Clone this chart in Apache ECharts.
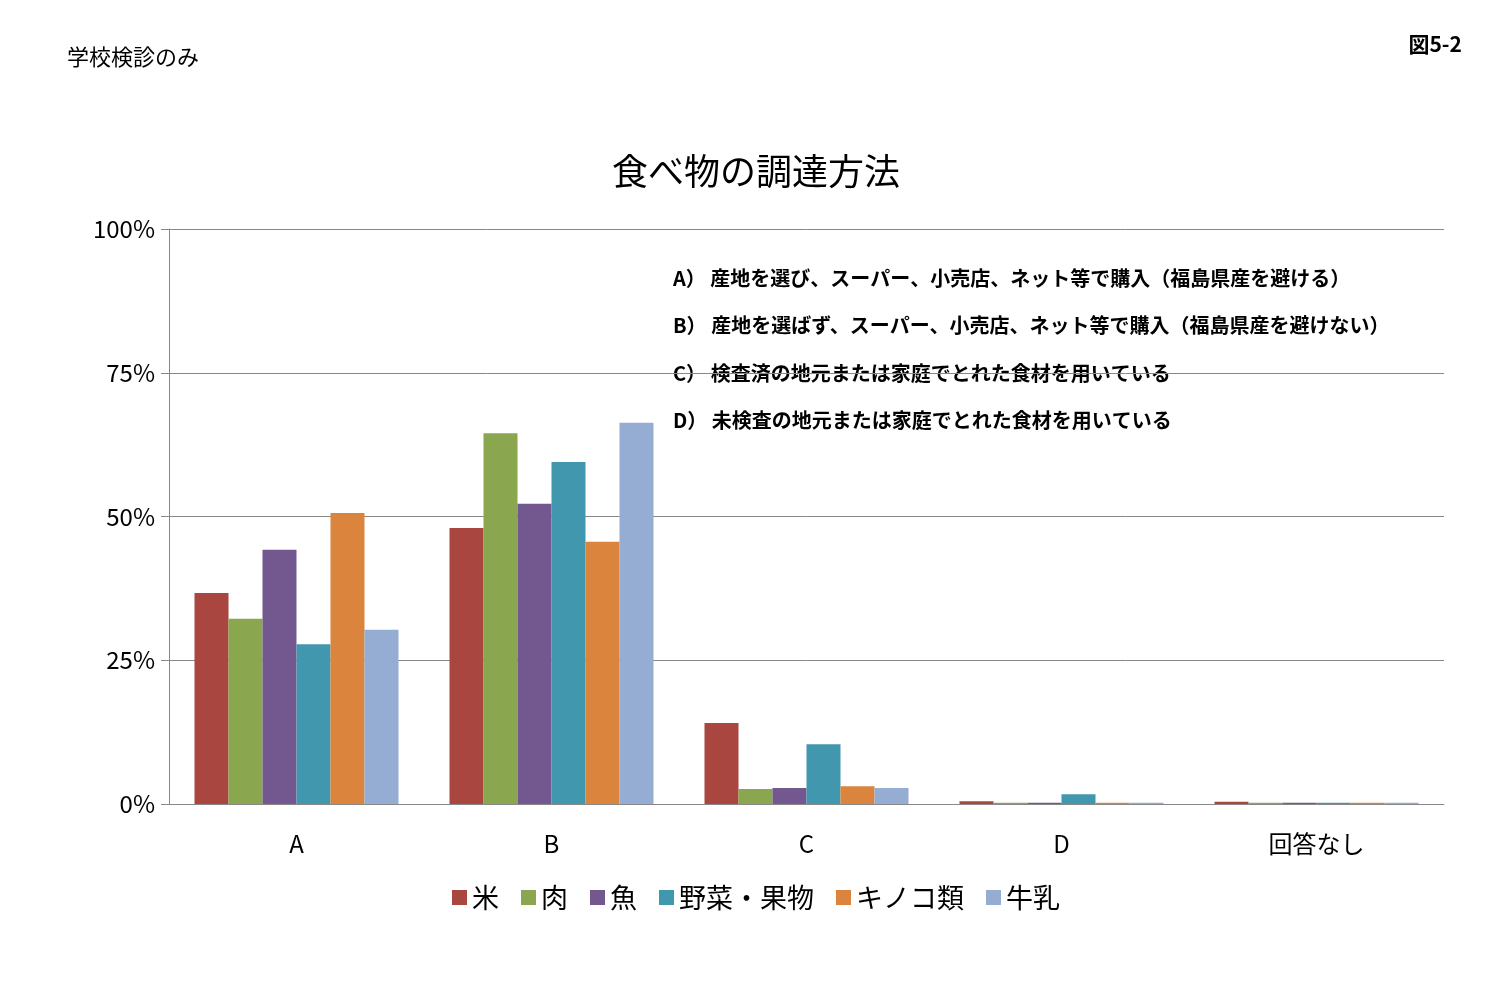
<!DOCTYPE html>
<html><head><meta charset="utf-8">
<script src="https://cdn.jsdelivr.net/npm/echarts@6/dist/echarts.min.js"></script>
<style>html,body{margin:0;background:#fff}#c{width:1512px;height:1008px}</style>
</head><body><div id="c"></div>
<script>
var categories = ['A', 'B', 'C', 'D', '回答なし'];
var seriesNames = ['米', '肉', '魚', '野菜・果物', 'キノコ類', '牛乳'];
var colors = ['#A9463F', '#8AA64E', '#72588E', '#4097AE', '#DB843D', '#95ADD2'];
var rice = [36.7, 48.0, 14.1, 0.5, 0.4];
var meat = [32.2, 64.5, 2.6, 0.2, 0.2];
var fish = [44.2, 52.2, 2.8, 0.2, 0.2];
var veg = [27.8, 59.5, 10.4, 1.7, 0.2];
var mushroom = [50.6, 45.6, 3.1, 0.2, 0.2];
var milk = [30.3, 66.3, 2.8, 0.2, 0.2];
var notes = [
  'A） 産地を選び、スーパー、小売店、ネット等で購入（福島県産を避ける）',
  'B） 産地を選ばず、スーパー、小売店、ネット等で購入（福島県産を避けない）',
  'C） 検査済の地元または家庭でとれた食材を用いている',
  'D） 未検査の地元または家庭でとれた食材を用いている'
];
var font = '"Noto Sans CJK JP", "Noto Sans", sans-serif';
var data = [rice, meat, fish, veg, mushroom, milk];

var chart = echarts.init(document.getElementById('c'));
chart.setOption({
  color: colors,
  textStyle: {fontFamily: font},
  title: {text: '食べ物の調達方法', left: 'center', top: 148,
    textStyle: {fontSize: 36, fontWeight: 'normal', color: '#000', fontFamily: font}},
  graphic: [
    {type: 'text', left: 67, top: 46, style: {text: '学校検診のみ', fontSize: 22, fill: '#000', fontFamily: font}},
    {type: 'text', right: 50, top: 34, style: {text: '図5-2', fontSize: 21, fontWeight: 'bold', fill: '#000', fontFamily: font}}
  ].concat(notes.map(function (t, i) {
    return {type: 'text', left: 673, top: 268 + i * 47.5,
      style: {text: t, fontSize: 20, fontWeight: 'bold', fill: '#000', fontFamily: font}};
  })),
  legend: {bottom: 92, left: 'center', itemWidth: 15, itemHeight: 15, itemGap: 22,
    icon: 'rect', textStyle: {fontSize: 27, color: '#000'}},
  grid: {left: 169, right: 68, top: 229, bottom: 204},
  xAxis: {type: 'category', data: categories,
    axisLine: {lineStyle: {color: '#888'}},
    axisTick: {length: 8, lineStyle: {color: '#888'}},
    axisLabel: {fontSize: 24, color: '#000', margin: 28}},
  yAxis: {type: 'value', min: 0, max: 100, interval: 25,
    axisLine: {show: true, lineStyle: {color: '#888'}},
    axisTick: {show: true, length: 8, inside: false, lineStyle: {color: '#888'}},
    axisLabel: {fontSize: 24, color: '#000', formatter: '{value}%', margin: 14},
    splitLine: {lineStyle: {color: '#888'}}},
  series: seriesNames.map(function (n, i) {
    return {name: n, type: 'bar', data: data[i], barGap: '0%', barCategoryGap: '20%'};
  })
});
</script></body></html>
